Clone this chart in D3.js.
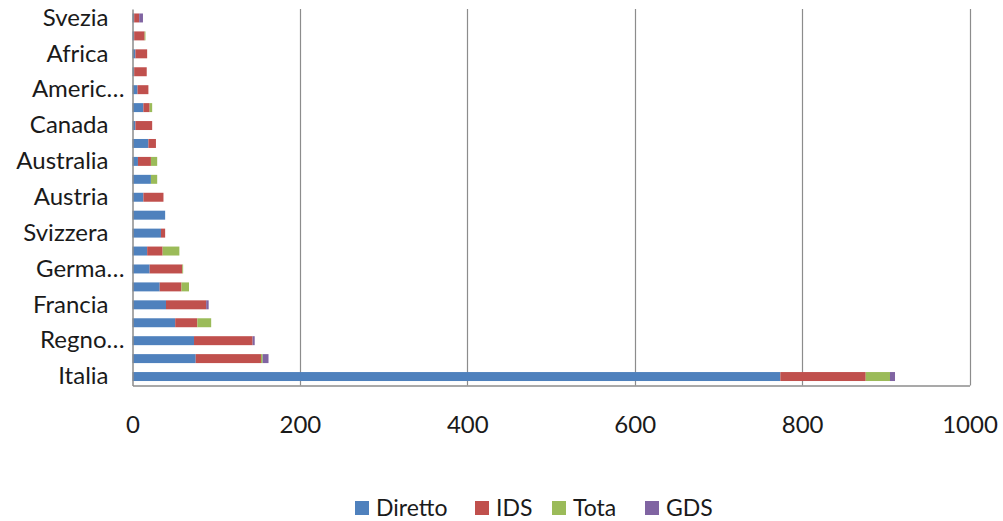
<!DOCTYPE html>
<html>
<head>
<meta charset="utf-8">
<script src="https://cdn.jsdelivr.net/npm/d3@7/dist/d3.min.js"></script>
<style>
  html, body { margin: 0; padding: 0; background: #fff; }
  svg { display: block; }
  text { font-family: Lato, "Open Sans", sans-serif; fill: #1a1a1a; }
</style>
</head>
<body>
<svg id="chart" width="1003" height="521"></svg>
<script>
// Categories listed bottom to top (as in the chart)
const categories = ["Italia", "Stati Uniti", "Regno…", "Spagna", "Francia", "Paesi Bassi", "Germa…", "Belgio",
  "Svizzera", "Giappone", "Austria", "Russia", "Australia", "Brasile", "Canada", "Asia", "Americ…", "Irlanda",
  "Africa", "Grecia", "Svezia"];
const seriesNames = ["Diretto", "IDS", "Tota", "GDS"];
const diretto = [774, 75.5, 73.5, 51, 40, 32.5, 20.5, 17.5, 34, 39, 13, 22, 6.5, 19, 3.5, 13, 6, 2, 3.5, 2, 2];
const ids     = [102, 78, 70, 26.5, 48, 26, 39, 18.5, 5, 0, 24, 0, 15.5, 9, 20, 7.5, 13, 15, 14, 12.5, 6];
const tota    = [29, 2, 0, 16.5, 0, 9, 1, 20, 0, 0, 0, 7.5, 7.5, 0, 0, 3, 0, 0, 0, 1, 0];
const gds     = [6, 7, 2.5, 0, 3, 0, 0, 0, 0, 0, 0, 0, 0, 0, 0, 0, 0, 0, 0, 0, 4.5];
const xTicks = [0, 200, 400, 600, 800, 1000];
// labels shown on the category axis (every other category)
const shownLabels = ["Italia", "Regno…", "Francia", "Germa…", "Svizzera", "Austria", "Australia", "Canada", "Americ…", "Africa", "Svezia"];
const colors = ["#4F81BD", "#C0504D", "#9BBB59", "#8064A2"];

const rows = categories.map((c, i) => ({
  cat: c, Diretto: diretto[i], IDS: ids[i], Tota: tota[i], GDS: gds[i]
}));

const svg = d3.select("#chart");
const pLeft = 132.5, pRight = 969.5, pTop = 9, pBottom = 385.5;

const x = d3.scaleLinear().domain([0, 1000]).range([pLeft, pRight]);
const y = d3.scaleBand().domain(categories.slice().reverse()).range([pTop, pBottom])
  .paddingInner(0.5).paddingOuter(0.25);
const color = d3.scaleOrdinal().domain(seriesNames).range(colors);

// gridlines
svg.append("g").selectAll("line").data(xTicks.filter(d => d > 0)).join("line")
  .attr("x1", d => Math.round(x(d)) + 0.5).attr("x2", d => Math.round(x(d)) + 0.5)
  .attr("y1", pTop).attr("y2", pBottom)
  .attr("stroke", "#8c8c8c").attr("stroke-width", 1.2);

// stacked bars
const stack = d3.stack().keys(seriesNames)(rows);
svg.append("g").selectAll("g").data(stack).join("g")
  .attr("fill", d => color(d.key))
  .selectAll("rect").data(d => d).join("rect")
  .attr("x", d => x(d[0]))
  .attr("width", d => Math.max(0, x(d[1]) - x(d[0])))
  .attr("y", d => y(d.data.cat))
  .attr("height", y.bandwidth());

// axes
const xAxis = d3.axisBottom(x).tickValues(xTicks).tickFormat(d3.format("d")).tickSize(0).tickPadding(30);
const gx = svg.append("g").attr("transform", `translate(0,${pBottom})`).call(xAxis);
gx.select(".domain").attr("stroke", "#8c8c8c").attr("stroke-width", 1.5);
gx.selectAll("text").attr("font-size", 24).attr("fill", "#1a1a1a").attr("font-family", "Lato");

const yAxis = d3.axisLeft(y).tickSize(0).tickPadding(24)
  .tickFormat(d => shownLabels.includes(d) ? d : "");
const gy = svg.append("g").attr("transform", `translate(${pLeft},0)`).call(yAxis);
gy.select(".domain").attr("stroke", "#8c8c8c").attr("stroke-width", 1.5);
gy.selectAll("text").attr("font-size", 24).attr("fill", "#1a1a1a").attr("font-family", "Lato")
  .attr("dx", d => d.endsWith("…") ? 16 : 0);

// legend
const legendX = [355, 475, 552, 645];
const lg = svg.append("g");
seriesNames.forEach((s, i) => {
  const g = lg.append("g").attr("transform", `translate(${legendX[i]},507)`);
  g.append("rect").attr("x", 0).attr("y", -6).attr("width", 14).attr("height", 14).attr("fill", color(s));
  g.append("text").attr("x", 21).attr("y", 0).attr("dy", "0.4em").attr("font-size", 23).text(s);
});
</script>
</body>
</html>
